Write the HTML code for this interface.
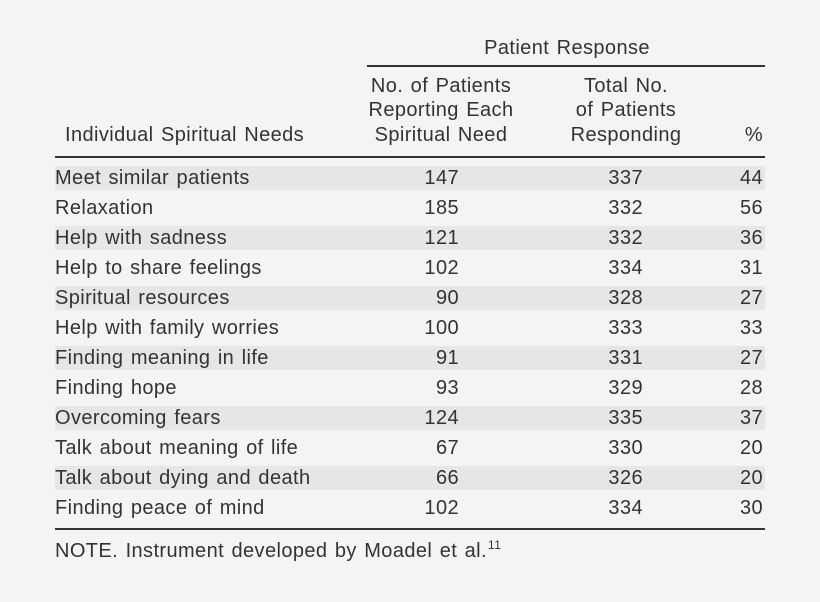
<!DOCTYPE html>
<html><head><meta charset="utf-8"><style>
html,body{margin:0;padding:0;}
body{width:820px;height:602px;background:#f4f4f4;position:relative;overflow:hidden;
font-family:"Liberation Sans",Arial,sans-serif;font-size:20px;color:#333;letter-spacing:0.4px;word-spacing:1.5px;}
.t{position:absolute;line-height:24px;height:24px;white-space:nowrap;}
.l{position:absolute;height:2px;background:#333;}
.sh{position:absolute;left:55px;width:710px;height:24px;background:#e6e6e6;}
.r{text-align:right;}
.c{text-align:center;}
</style></head><body>
<div class="t c" style="left:467px;width:200px;top:36px;">Patient Response</div>
<div class="l" style="left:367px;width:398px;top:65px;"></div>

<div class="t c" style="left:341px;width:200px;top:74px;">No. of Patients</div>
<div class="t c" style="left:341px;width:200px;top:98px;">Reporting Each</div>
<div class="t c" style="left:341px;width:200px;top:123px;">Spiritual Need</div>

<div class="t c" style="left:526px;width:200px;top:74px;">Total No.</div>
<div class="t c" style="left:526px;width:200px;top:98px;">of Patients</div>
<div class="t c" style="left:526px;width:200px;top:123px;">Responding</div>

<div class="t" style="left:65px;top:123px;">Individual Spiritual Needs</div>
<div class="t r" style="left:700px;width:63px;top:123px;">%</div>
<div class="l" style="left:55px;width:710px;top:156px;"></div>

<div class="sh" style="top:166px;"></div>
<div class="sh" style="top:226px;"></div>
<div class="sh" style="top:286px;"></div>
<div class="sh" style="top:346px;"></div>
<div class="sh" style="top:406px;"></div>
<div class="sh" style="top:466px;"></div>

<div class="t" style="left:55px;top:166px;">Meet similar patients</div>
<div class="t r" style="left:359px;width:100px;top:166px;">147</div>
<div class="t r" style="left:543px;width:100px;top:166px;">337</div>
<div class="t r" style="left:663px;width:100px;top:166px;">44</div>

<div class="t" style="left:55px;top:196px;">Relaxation</div>
<div class="t r" style="left:359px;width:100px;top:196px;">185</div>
<div class="t r" style="left:543px;width:100px;top:196px;">332</div>
<div class="t r" style="left:663px;width:100px;top:196px;">56</div>

<div class="t" style="left:55px;top:226px;">Help with sadness</div>
<div class="t r" style="left:359px;width:100px;top:226px;">121</div>
<div class="t r" style="left:543px;width:100px;top:226px;">332</div>
<div class="t r" style="left:663px;width:100px;top:226px;">36</div>

<div class="t" style="left:55px;top:256px;">Help to share feelings</div>
<div class="t r" style="left:359px;width:100px;top:256px;">102</div>
<div class="t r" style="left:543px;width:100px;top:256px;">334</div>
<div class="t r" style="left:663px;width:100px;top:256px;">31</div>

<div class="t" style="left:55px;top:286px;">Spiritual resources</div>
<div class="t r" style="left:359px;width:100px;top:286px;">90</div>
<div class="t r" style="left:543px;width:100px;top:286px;">328</div>
<div class="t r" style="left:663px;width:100px;top:286px;">27</div>

<div class="t" style="left:55px;top:316px;">Help with family worries</div>
<div class="t r" style="left:359px;width:100px;top:316px;">100</div>
<div class="t r" style="left:543px;width:100px;top:316px;">333</div>
<div class="t r" style="left:663px;width:100px;top:316px;">33</div>

<div class="t" style="left:55px;top:346px;">Finding meaning in life</div>
<div class="t r" style="left:359px;width:100px;top:346px;">91</div>
<div class="t r" style="left:543px;width:100px;top:346px;">331</div>
<div class="t r" style="left:663px;width:100px;top:346px;">27</div>

<div class="t" style="left:55px;top:376px;">Finding hope</div>
<div class="t r" style="left:359px;width:100px;top:376px;">93</div>
<div class="t r" style="left:543px;width:100px;top:376px;">329</div>
<div class="t r" style="left:663px;width:100px;top:376px;">28</div>

<div class="t" style="left:55px;top:406px;">Overcoming fears</div>
<div class="t r" style="left:359px;width:100px;top:406px;">124</div>
<div class="t r" style="left:543px;width:100px;top:406px;">335</div>
<div class="t r" style="left:663px;width:100px;top:406px;">37</div>

<div class="t" style="left:55px;top:436px;">Talk about meaning of life</div>
<div class="t r" style="left:359px;width:100px;top:436px;">67</div>
<div class="t r" style="left:543px;width:100px;top:436px;">330</div>
<div class="t r" style="left:663px;width:100px;top:436px;">20</div>

<div class="t" style="left:55px;top:466px;">Talk about dying and death</div>
<div class="t r" style="left:359px;width:100px;top:466px;">66</div>
<div class="t r" style="left:543px;width:100px;top:466px;">326</div>
<div class="t r" style="left:663px;width:100px;top:466px;">20</div>

<div class="t" style="left:55px;top:496px;">Finding peace of mind</div>
<div class="t r" style="left:359px;width:100px;top:496px;">102</div>
<div class="t r" style="left:543px;width:100px;top:496px;">334</div>
<div class="t r" style="left:663px;width:100px;top:496px;">30</div>

<div class="l" style="left:55px;width:710px;top:528px;"></div>

<div class="t" style="left:55px;top:539px;">NOTE. Instrument developed by Moadel et al.<span style="font-size:12px;position:relative;top:-8px;letter-spacing:0.5px;margin-left:1px;">11</span></div>
</body></html>
